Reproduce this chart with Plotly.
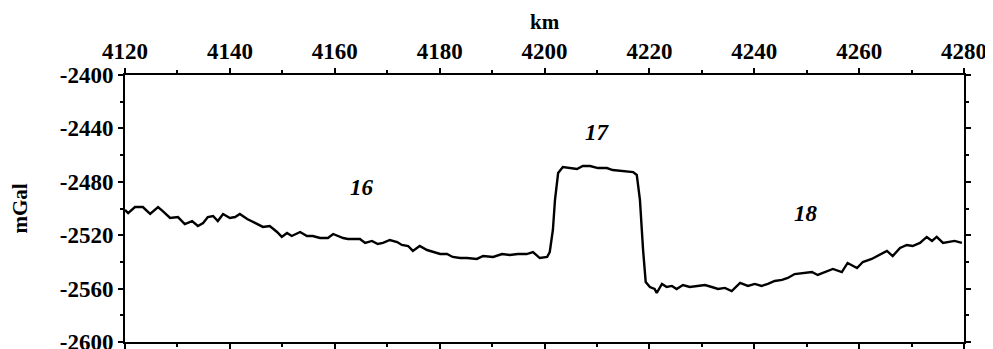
import plotly.graph_objects as go

km = [4120.0, 4120.6, 4121.9, 4123.4, 4124.8, 4126.3, 4127.2, 4128.6, 4130.1, 4131.4,
      4132.8, 4133.9, 4134.9, 4135.8, 4136.8, 4137.7, 4138.7, 4140.0, 4141.0, 4141.9,
      4143.3, 4144.8, 4146.3, 4147.6, 4149.0, 4149.9, 4150.9, 4151.8, 4153.4, 4154.7,
      4155.8, 4157.2, 4158.7, 4159.7, 4160.6, 4161.6, 4162.5, 4163.5, 4164.8, 4165.8,
      4167.1, 4168.2, 4169.2, 4170.5, 4171.9, 4172.8, 4174.0, 4174.9, 4176.2, 4177.6,
      4178.7, 4180.1, 4181.4, 4182.5, 4183.9, 4185.2, 4187.1, 4188.3, 4190.2, 4191.9,
      4193.4, 4194.9, 4196.6, 4197.8, 4199.1, 4200.5, 4201.0, 4201.6, 4202.0, 4202.6,
      4203.5, 4204.8, 4206.2, 4207.3, 4208.7, 4210.2, 4211.9, 4213.0, 4214.9, 4216.9,
      4217.6, 4218.2, 4218.8, 4219.3, 4220.1, 4221.0, 4221.4, 4222.4, 4223.3, 4224.3,
      4225.2, 4226.4, 4227.7, 4229.1, 4230.6, 4231.9, 4233.1, 4234.4, 4235.7, 4237.3,
      4238.8, 4240.1, 4241.4, 4242.6, 4243.9, 4245.3, 4246.4, 4247.7, 4249.3, 4251.0,
      4252.1, 4253.5, 4255.0, 4256.7, 4257.8, 4259.6, 4260.7, 4262.4, 4263.9, 4265.3,
      4266.4, 4267.8, 4269.1, 4270.2, 4271.6, 4272.9, 4273.9, 4274.8, 4276.0, 4277.3,
      4278.2, 4279.6]

mgal = [-2501.1, -2503.4, -2498.9, -2498.9, -2504.1, -2498.9, -2501.9, -2507.1, -2506.4, -2511.6,
        -2509.4, -2513.1, -2510.9, -2506.4, -2505.6, -2509.4, -2504.1, -2507.1, -2506.4, -2504.1,
        -2507.9, -2510.9, -2513.8, -2513.1, -2517.6, -2521.3, -2518.3, -2520.6, -2517.6, -2520.6,
        -2520.6, -2522.1, -2522.1, -2519.1, -2520.6, -2522.1, -2522.8, -2522.8, -2522.8, -2525.8,
        -2524.3, -2526.6, -2525.8, -2523.6, -2525.1, -2527.3, -2528.1, -2531.8, -2528.1, -2531.1,
        -2532.6, -2534.1, -2534.1, -2536.3, -2537.1, -2537.1, -2537.8, -2535.6, -2536.3, -2534.1,
        -2534.8, -2534.1, -2534.1, -2532.6, -2537.1, -2536.3, -2532.6, -2516.1, -2493.6, -2473.4,
        -2468.9, -2469.7, -2470.4, -2468.2, -2468.2, -2469.7, -2469.7, -2471.2, -2471.9, -2472.7,
        -2474.9, -2493.6, -2531.1, -2555.0, -2558.8, -2560.3, -2563.3, -2556.5, -2558.8, -2558.0,
        -2560.3, -2557.3, -2558.8, -2558.0, -2557.3, -2558.8, -2560.3, -2559.5, -2561.8, -2555.8,
        -2558.0, -2556.5, -2558.0, -2556.5, -2554.3, -2553.5, -2552.0, -2549.1, -2548.3, -2547.6,
        -2549.8, -2547.6, -2545.3, -2547.6, -2540.8, -2544.6, -2540.1, -2537.8, -2534.8, -2531.8,
        -2535.6, -2529.6, -2527.3, -2528.1, -2525.8, -2521.3, -2524.3, -2521.3, -2525.8, -2525.1,
        -2524.3, -2525.8]

x_ticks = [4120, 4140, 4160, 4180, 4200, 4220, 4240, 4260, 4280]
y_ticks = [-2400, -2440, -2480, -2520, -2560, -2600]

labels = ["16", "17", "18"]
label_x = [4165.2, 4210.2, 4249.8]
label_y = [-2483.9, -2443.4, -2503.4]

FONT = "Liberation Serif, Times New Roman, serif"

fig = go.Figure()
fig.add_trace(go.Scatter(x=km, y=mgal, mode="lines",
                         line=dict(color="black", width=2.4), showlegend=False,
                         hoverinfo="skip"))

for t, lx, ly in zip(labels, label_x, label_y):
    fig.add_annotation(x=lx, y=ly, text=f"<b><i>{t}</i></b>", showarrow=False,
                       xanchor="center", yanchor="middle",
                       font=dict(family=FONT, size=23, color="black"))

fig.add_annotation(x=0.5, y=1, xref="paper", yref="paper", yshift=53,
                   xanchor="center", yanchor="middle",
                   text="<b>km</b>", showarrow=False,
                   font=dict(family=FONT, size=21, color="black"))
fig.add_annotation(x=0, y=0.5, xref="paper", yref="paper", xshift=-106,
                   xanchor="center", yanchor="middle",
                   text="<b>mGal</b>", showarrow=False, textangle=-90,
                   font=dict(family=FONT, size=21, color="black"))

fig.update_xaxes(range=[4120, 4280], side="top", tickvals=x_ticks,
                 ticktext=[f"<b>{v}</b>" for v in x_ticks],
                 showgrid=False, zeroline=False, showline=True, linecolor="black",
                 linewidth=2, mirror="ticks", ticks="outside", ticklen=5, tickwidth=1.5,
                 tickcolor="black", automargin=False,
                 minor=dict(dtick=10, tick0=4120, ticks="outside", ticklen=3, tickcolor="black",
                            showgrid=False),
                 tickfont=dict(family=FONT, size=23, color="black"))
fig.update_yaxes(range=[-2600, -2400], tickvals=y_ticks,
                 ticktext=[f"<b>{v}</b>" for v in y_ticks],
                 showgrid=False, zeroline=False, showline=True, linecolor="black",
                 linewidth=2, mirror="ticks", ticks="outside", ticklen=5, tickwidth=1.5,
                 tickcolor="black", automargin=False,
                 minor=dict(dtick=20, tick0=-2600, ticks="outside", ticklen=3, tickcolor="black",
                            showgrid=False),
                 tickfont=dict(family=FONT, size=23, color="black"))

# the page adds an 8px body margin, so the figure margins are shifted to compensate
fig.update_layout(width=993, height=349,
                  margin=dict(l=117, r=37, t=67, b=15, autoexpand=False),
                  paper_bgcolor="white", plot_bgcolor="white")

fig.write_html("out.html")
